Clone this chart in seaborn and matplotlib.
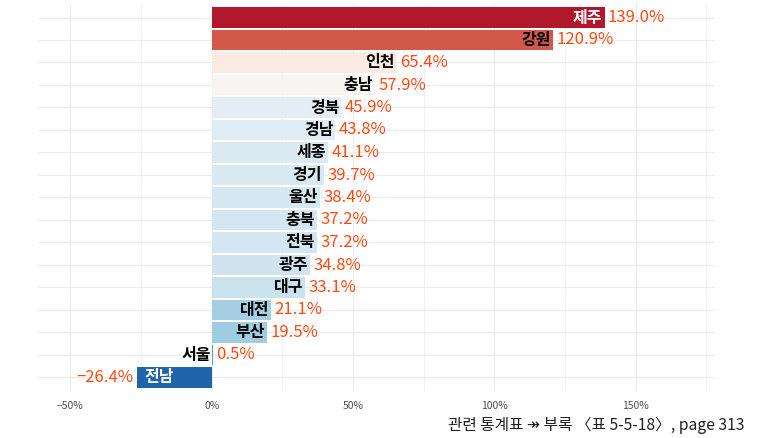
import numpy as np
import pandas as pd
import matplotlib
import matplotlib.pyplot as plt
from matplotlib.colors import LinearSegmentedColormap, Normalize
from matplotlib.ticker import FixedLocator
import seaborn as sns

# ── Data ───────────────────────────────────────────────────────────────────────
REGIONS = ["제주", "강원", "인천", "충남", "경북", "경남", "세종", "경기", "울산",
           "충북", "전북", "광주", "대구", "대전", "부산", "서울", "전남"]
CHANGE_PCT = [139.0, 120.9, 65.4, 57.9, 45.9, 43.8, 41.1, 39.7, 38.4,
              37.2, 37.2, 34.8, 33.1, 21.1, 19.5, 0.5, -26.4]
WHITE_LABELS = ["제주", "전남"]
X_TICKS = [-50, 0, 50, 100, 150]
X_TICK_LABELS = ["\u221250%", "0%", "50%", "100%", "150%"]
CAPTION = "관련 통계표 \u21a0 부록 〈표 5-5-18〉, page 313"

VALUE_COLOUR = "#FF4A12"
GRID_COLOUR = "#EBEBEB"

# ── Style ──────────────────────────────────────────────────────────────────────
sns.set_style("white")
plt.rcParams["font.family"] = ["Noto Sans CJK KR", "DejaVu Sans"]
plt.rcParams["axes.unicode_minus"] = False

df = pd.DataFrame({"region": REGIONS, "pct": CHANGE_PCT})

# diverging fill, blue (low) -> white -> red (high)
base = plt.get_cmap("RdBu_r")
cmap = LinearSegmentedColormap.from_list("rdbu_trim", base(np.linspace(0.1, 0.9, 256)))
norm = Normalize(df["pct"].min(), df["pct"].max())
palette = {r: cmap(norm(v)) for r, v in zip(df["region"], df["pct"])}

fig = plt.figure(figsize=(7.68, 4.38), dpi=100)
ax = fig.add_axes([39.3 / 768, 1 - 391 / 438, (715 - 39.3) / 768, (391 - 4) / 438])

sns.barplot(data=df, x="pct", y="region", hue="region", palette=palette,
            order=REGIONS, hue_order=REGIONS, legend=False, width=0.9,
            orient="h", ax=ax, saturation=1, linewidth=0)

ax.set_xlim(-61.0, 178.1)
ax.set_ylim(len(REGIONS) - 0.4, -0.6)

# grid
ax.xaxis.set_major_locator(FixedLocator(X_TICKS))
ax.xaxis.set_minor_locator(FixedLocator([-25, 25, 75, 125, 175]))
ax.set_xticklabels(X_TICK_LABELS)
ax.grid(True, which="major", axis="both", color=GRID_COLOUR, lw=0.8)
ax.grid(True, which="minor", axis="x", color=GRID_COLOUR, lw=0.5)
ax.set_axisbelow(True)
ax.set_yticklabels([])
ax.tick_params(axis="both", which="both", length=0)
ax.tick_params(axis="x", labelsize=7.5, labelcolor="#4D4D4D", pad=7)
ax.set_xlabel("")
ax.set_ylabel("")
for s in ax.spines.values():
    s.set_visible(False)

# labels
for i, (name, v) in enumerate(zip(REGIONS, CHANGE_PCT)):
    name_col = "white" if name in WHITE_LABELS else "black"
    pct_txt = f"{v:.1f}%".replace("-", "\u2212")
    if v >= 0:
        ax.annotate(name, (v, i), xytext=(-1.5, 0), textcoords="offset points",
                    ha="right", va="center", fontsize=11.5, fontweight="bold",
                    color=name_col)
        ax.annotate(pct_txt, (v, i), xytext=(2.5, 0), textcoords="offset points",
                    ha="left", va="center", fontsize=12, color=VALUE_COLOUR)
    else:
        ax.annotate(name, (v, i), xytext=(5, 0), textcoords="offset points",
                    ha="left", va="center", fontsize=11.5, fontweight="bold",
                    color=name_col)
        ax.annotate(pct_txt, (v, i), xytext=(-2.5, 0), textcoords="offset points",
                    ha="right", va="center", fontsize=12, color=VALUE_COLOUR)

fig.text(745 / 768, 1 - 425 / 438, CAPTION, ha="right", va="center",
         fontsize=11.3, color="#222222")

fig.savefig("out.png", dpi=100)
